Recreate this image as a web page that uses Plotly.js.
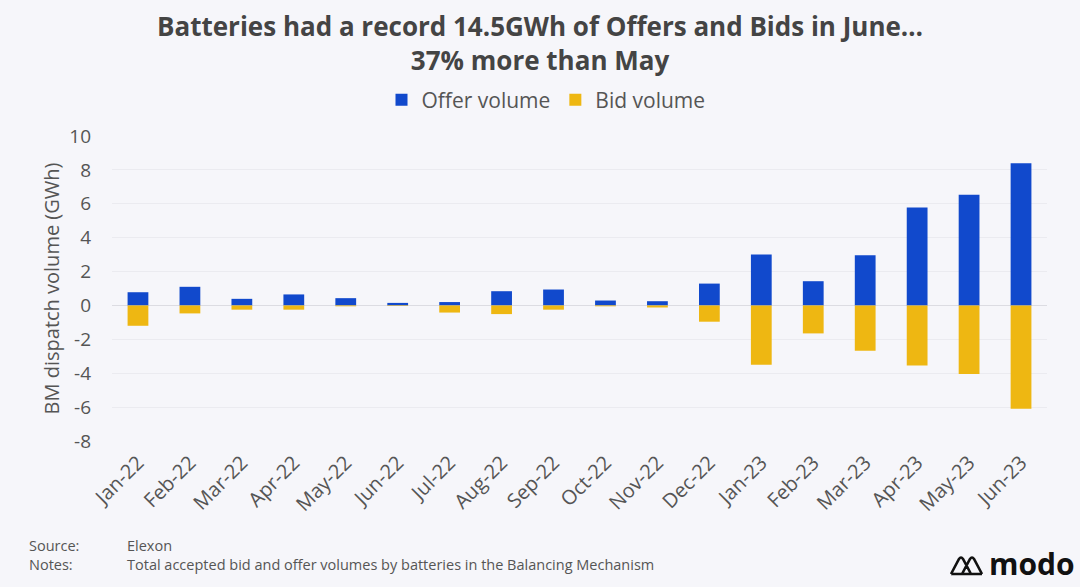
<!DOCTYPE html>
<html>
<head>
<meta charset="utf-8">
<script src="https://cdn.plot.ly/plotly-3.0.1.min.js"></script>
<style>html,body{margin:0;padding:0;background:#f6f6fa;}#chart{width:1080px;height:587px;}</style>
</head>
<body>
<div id="chart"></div>
<script>
const months = ["Jan-22","Feb-22","Mar-22","Apr-22","May-22","Jun-22","Jul-22","Aug-22","Sep-22","Oct-22","Nov-22","Dec-22","Jan-23","Feb-23","Mar-23","Apr-23","May-23","Jun-23"];
const offerVolume = [0.78,1.1,0.39,0.65,0.43,0.15,0.2,0.84,0.94,0.29,0.25,1.29,3.0,1.43,2.96,5.78,6.53,8.39];
const bidVolume = [-1.2,-0.47,-0.25,-0.25,-0.05,-0.03,-0.42,-0.51,-0.25,-0.05,-0.12,-0.96,-3.5,-1.65,-2.67,-3.55,-4.04,-6.1];
const yTicks = [-8,-6,-4,-2,0,2,4,6,8,10];

const font = "'Open Sans', sans-serif";
const grey = "#555";
const data = [
  {type:"bar", name:"Offer volume", x:months, y:offerVolume, marker:{color:"#1149cc"}},
  {type:"bar", name:"Bid volume", x:months, y:bidVolume, marker:{color:"#eeb712"}}
];
const PT = 136, PH = 305, PL = 112, PW = 935;
const py = px => (PT + PH - px) / PH;   // pixel row -> paper y
const pxx = px => (px - PL) / PW;       // pixel col -> paper x
const P = (x, y) => pxx(x) + " " + py(y);
const layout = {
  width:1080, height:587,
  paper_bgcolor:"#f6f6fa", plot_bgcolor:"#f6f6fa",
  margin:{l:PL, r:1080-PL-PW, t:PT, b:587-PT-PH},
  barmode:"relative", bargap:0.6,
  font:{family:font, color:grey},
  showlegend:true,
  legend:{orientation:"h", x:pxx(546), xanchor:"center", y:py(100), yanchor:"middle",
          font:{size:21, color:grey}, traceorder:"normal", itemwidth:30},
  xaxis:{type:"category", tickangle:-45, tickfont:{size:20, color:grey}, showgrid:false,
         showline:false, ticks:"", ticklabelstandoff:5, fixedrange:true},
  yaxis:{range:[-8,10], tickvals:yTicks, ticktext:yTicks.map(String), tickfont:{size:19, color:grey},
         showgrid:true, gridcolor:"#ebebf0", zeroline:true, zerolinecolor:"#dcdce2", zerolinewidth:1,
         ticklabelstandoff:20,
         title:{text:"BM dispatch volume (GWh)", font:{size:20, color:grey}, standoff:4}},
  annotations:[
    {xref:"paper", yref:"paper", x:pxx(540), y:py(43), xanchor:"center", yanchor:"middle", showarrow:false,
     text:"<b>Batteries had a record 14.5GWh of Offers and Bids in June…<br>37% more than May</b>",
     font:{size:26, color:"#444"}},
    {xref:"paper", yref:"paper", x:pxx(27), y:py(555), xanchor:"left", yanchor:"middle", showarrow:false,
     align:"left", text:"Source:<br>Notes:", font:{size:14.5, color:grey}},
    {xref:"paper", yref:"paper", x:pxx(125), y:py(555), xanchor:"left", yanchor:"middle", showarrow:false,
     align:"left", text:"Elexon<br>Total accepted bid and offer volumes by batteries in the Balancing Mechanism",
     font:{size:14.5, color:grey}},
    {xref:"paper", yref:"paper", x:pxx(1077), y:py(563), xanchor:"right", yanchor:"middle", showarrow:false,
     text:"<b>modo</b>", font:{size:30, color:"#111"}}
  ],
  shapes:[
    {type:"path", xref:"paper", yref:"paper",
     path:"M "+P(951,574)+" L "+P(959,559)+" Q "+P(961,556)+" "+P(963,559)+" L "+P(971,574)+
          " M "+P(962,574)+" L "+P(970,559)+" Q "+P(972,556)+" "+P(974,559)+" L "+P(982,574)+
          " M "+P(951,574)+" L "+P(982,574),
     line:{color:"#111", width:2.6}}
  ]
};
Plotly.newPlot("chart", data, layout, {displayModeBar:false, staticPlot:true});
</script>
</body>
</html>
